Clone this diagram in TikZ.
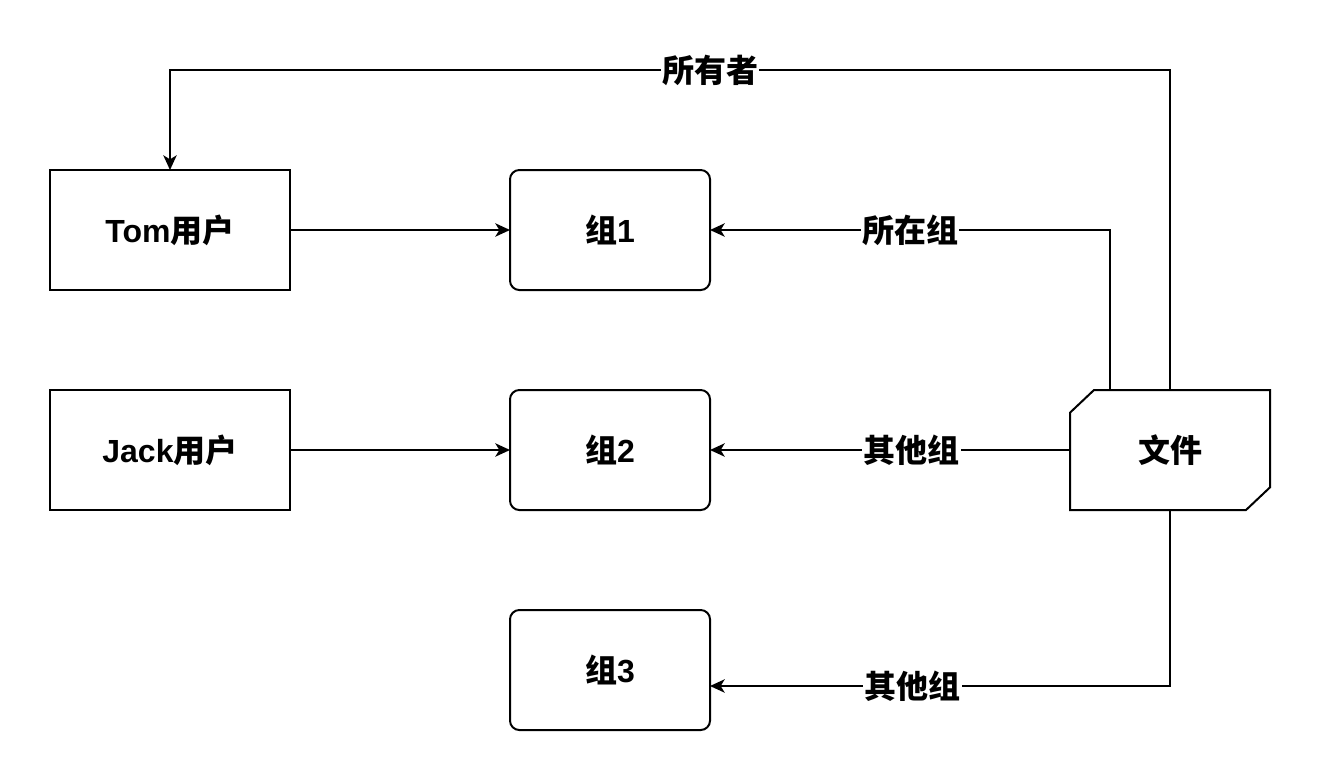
\documentclass[tikz,border=0pt]{standalone}
\usepackage{fontspec}
\setmainfont{Liberation Sans}
\newfontfamily\cjk{Noto Sans CJK SC}
\usetikzlibrary{arrows.meta,positioning}

\begin{document}
\begin{tikzpicture}[->,>={Stealth[length=11pt,width=10pt,inset=3pt]},x=0.75pt,y=-0.75pt,line width=1.5pt,
  node distance=75pt,outer sep=0pt,font=\fontsize{24}{28}\selectfont\bfseries]
  \tikzstyle{user}=[draw,minimum width=180pt,minimum height=90pt]
  \tikzstyle{group}=[draw,rounded corners=7pt,minimum width=150pt,minimum height=90pt]
  \tikzstyle{tag}=[fill=white,inner sep=1pt,font=\fontsize{24}{28}\selectfont\cjk\bfseries]
  \useasboundingbox (0,0) rectangle (1322,782);

	\node[user] (tom) at (170,230) {Tom{\cjk 用户}};
	\node[user] (jack) at (170,450) {Jack{\cjk 用户}};
	\node[group] (g1) at (610,230) {{\cjk 组}1};
	\node[group, below=of g1] (g2) {{\cjk 组}2};
	\node[group, below=of g2] (g3) {{\cjk 组}3};
	\node[minimum width=150pt, minimum height=90pt] (file) at (1170,450) {\cjk 文件};
	\draw[-] ([yshift=-17pt]file.north west) -- ([xshift=18pt]file.north west) -- (file.north east)
	  -- ([yshift=17pt]file.south east) -- ([xshift=-18pt]file.south east) -- (file.south west) -- cycle;
	\coordinate (own) at (1170,70);

	\draw (tom) -- (g1);
	\draw (jack) -- (g2);
	\draw (file.north) -- (own) -| node[tag,pos=0.23]{所有者} (tom.north);
	\draw ([xshift=-45pt]file.north) |- node[tag,pos=0.75]{所在组} (g1);
	\draw (file) -- node[tag,pos=0.44]{其他组} (g2);
	\draw (file.south) |- node[tag,pos=0.78]{其他组} ([yshift=-12pt]g3.east);
\end{tikzpicture}
\end{document}
